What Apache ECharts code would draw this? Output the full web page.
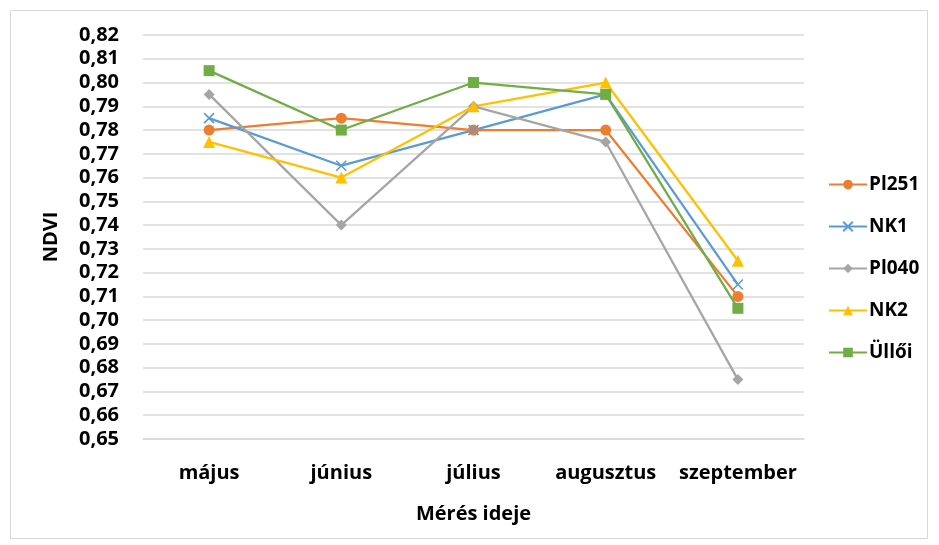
<!DOCTYPE html>
<html>
<head>
<meta charset="utf-8">
<script src="https://cdn.jsdelivr.net/npm/echarts@6/dist/echarts.min.js"></script>
<style>
  html, body { margin: 0; padding: 0; background: #fff; }
  #frame { position: absolute; left: 10px; top: 10px; width: 918px; height: 529px; border: 1px solid #d9d9d9; box-sizing: border-box; }
  #chart { position: absolute; left: 0; top: 0; width: 939px; height: 545px; }
</style>
</head>
<body>
<div id="frame"></div>
<div id="chart"></div>
<script>
// Monthly NDVI per variety
const months = ['május', 'június', 'július', 'augusztus', 'szeptember'];
const pl251 = [0.780, 0.785, 0.780, 0.780, 0.710];
const nk1   = [0.785, 0.765, 0.780, 0.795, 0.715];
const pl040 = [0.795, 0.740, 0.790, 0.775, 0.675];
const nk2   = [0.775, 0.760, 0.790, 0.800, 0.725];
const ulloi = [0.805, 0.780, 0.800, 0.795, 0.705];

const FONT = '"Open Sans", Lato, sans-serif';
const xMark = 'path://M0,0L10,10M10,0L0,10';

function line(name, data, color, symbol, size, extra) {
  return Object.assign({
    name: name,
    type: 'line',
    data: data,
    symbol: symbol,
    symbolSize: size,
    lineStyle: { color: color, width: 2.25 },
    itemStyle: { color: color },
    emphasis: { disabled: true }
  }, extra || {});
}

const chart = echarts.init(document.getElementById('chart'));
chart.setOption({
  animation: false,
  textStyle: { fontFamily: FONT },
  grid: { left: 143, right: 135, top: 35, bottom: 106 },
  legend: {
    orient: 'vertical',
    left: 823,
    top: 170,
    itemWidth: 38,
    itemHeight: 12,
    itemGap: 23,
    textStyle: { fontFamily: FONT, fontWeight: 'bold', fontSize: 19, color: '#000', padding: [0, 0, 0, -3] },
    data: ['Pl251', 'NK1', 'Pl040', 'NK2', 'Üllői']
  },
  xAxis: {
    type: 'category',
    data: months,
    boundaryGap: true,
    axisLine: { lineStyle: { color: '#d9d9d9', width: 1.5 } },
    axisTick: { show: false },
    axisLabel: { interval: 0, margin: 24, fontFamily: FONT, fontWeight: 'bold', fontSize: 20, color: '#000' },
    name: 'Mérés ideje',
    nameLocation: 'middle',
    nameGap: 65,
    nameTextStyle: { fontFamily: FONT, fontWeight: 'bold', fontSize: 20, color: '#000' }
  },
  yAxis: {
    type: 'value',
    min: 0.65,
    max: 0.82,
    interval: 0.01,
    axisLine: { show: false },
    axisTick: { show: false },
    splitLine: { lineStyle: { color: '#d9d9d9', width: 1.5 } },
    axisLabel: {
      margin: 24,
      fontFamily: FONT, fontWeight: 'bold', fontSize: 20, color: '#000',
      formatter: v => v.toFixed(2).replace('.', ',')
    },
    name: 'NDVI',
    nameLocation: 'middle',
    nameRotate: 90,
    nameGap: 82,
    nameTextStyle: { fontFamily: FONT, fontWeight: 'bold', fontSize: 20, color: '#000' }
  },
  series: [
    line('Pl251', pl251, '#ED7D31', 'circle', 11),
    line('NK1', nk1, '#5B9BD5', xMark, 10, {
      itemStyle: { color: '#5B9BD5', borderColor: '#5B9BD5', borderWidth: 1.6 }
    }),
    line('Pl040', pl040, '#A5A5A5', 'diamond', 11),
    line('NK2', nk2, '#FFC000', 'triangle', 12),
    line('Üllői', ulloi, '#70AD47', 'rect', 11)
  ]
});
</script>
</body>
</html>
